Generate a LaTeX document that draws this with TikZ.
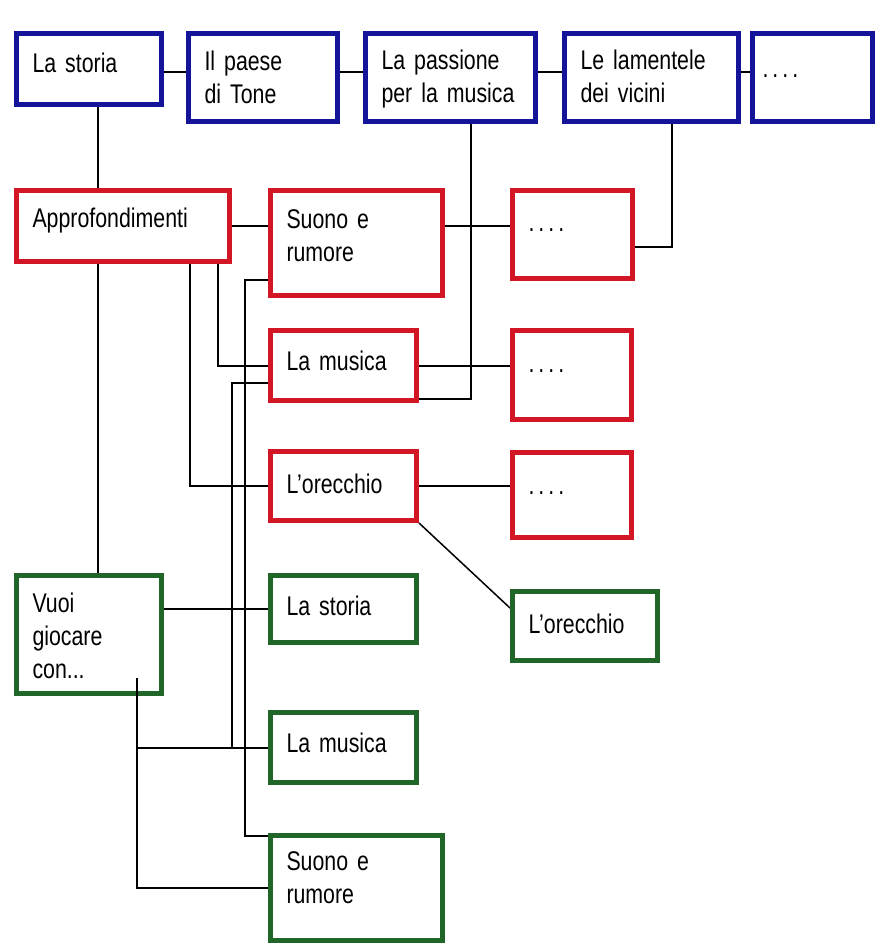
\documentclass[tikz,border=0pt]{standalone}
\usepackage{fontspec}
\setmainfont{Liberation Sans}[FakeStretch=0.79]
\usetikzlibrary{backgrounds}
\definecolor{bluebox}{RGB}{20,20,155}
\definecolor{redbox}{RGB}{210,22,38}
\definecolor{greenbox}{RGB}{32,102,40}
\tikzset{
  boxbase/.style={draw, fill=white, line width=5pt, rectangle, inner ysep=0pt, inner xsep=16pt,
    align=left, font=\fontsize{27}{33}\selectfont},
  bluestyle/.style={boxbase, draw=bluebox},
  redstyle/.style={boxbase, draw=redbox},
  greenstyle/.style={boxbase, draw=greenbox},
  conn/.style={draw=black, line width=2pt},
  thinconn/.style={draw=black, line width=1.5pt}
}
\newcommand\mkbox[8]{\node[#2,anchor=north west,minimum width={#5-5},minimum height={#6-5},
  text width={#5-5-32},text height={#7-2.5},text depth={#6-2.5-#7}] (#1) at (#3,#4) {#8};}
\newcommand\dotsfour{.\kern4pt.\kern4pt.\kern4pt.}
\begin{document}
\begin{tikzpicture}[x=1pt,y=-1pt]
\useasboundingbox (0,0) rectangle (879,944);
% top row
\mkbox{A1}{bluestyle}{14}{31}{150}{76}{42}{La storia}
\mkbox{A2}{bluestyle}{186}{31}{154}{93}{40}{Il paese\\di Tone}
\mkbox{A3}{bluestyle}{363}{31}{175}{93}{39}{La passione\\per la musica}
\mkbox{A4}{bluestyle}{562}{31}{179}{93}{39}{Le lamentele\\dei vicini}
\mkbox{A5}{bluestyle}{750}{31}{125}{93}{47}{\hspace*{-6pt}\dotsfour}
% red
\mkbox{R1}{redstyle}{14}{188}{218}{76}{39}{Approfondimenti}
\mkbox{R2}{redstyle}{268}{188}{177}{110}{40}{Suono e\\rumore}
\mkbox{R3}{redstyle}{510}{188}{125}{93}{43}{\dotsfour}
\mkbox{R4}{redstyle}{268}{328}{151}{75}{42}{La musica}
\mkbox{R5}{redstyle}{510}{328}{124}{94}{44}{\dotsfour}
\mkbox{R6}{redstyle}{268}{449}{151}{74}{44}{L'orecchio}
\mkbox{R7}{redstyle}{510}{450}{124}{90}{44}{\dotsfour}
% green
\mkbox{G1}{greenstyle}{14}{573}{150}{123}{39}{Vuoi\\giocare\\con...}
\mkbox{G2}{greenstyle}{268}{573}{151}{72}{42}{La storia}
\mkbox{G3}{greenstyle}{510}{589}{150}{74}{44}{L'orecchio}
\mkbox{G4}{greenstyle}{268}{710}{151}{75}{42}{La musica}
\mkbox{G5}{greenstyle}{268}{833}{177}{110}{37}{Suono e\\rumore}
\begin{scope}[on background layer]
\fill[white] (0,0) rectangle (879,944);
\draw[conn] ([yshift=-3pt]A1.east) -- ([yshift=5.5pt]A2.west);
\draw[conn] ([yshift=5.5pt]A2.east) -- ([yshift=5.5pt]A3.west);
\draw[conn] ([yshift=5.5pt]A3.east) -- ([yshift=5.5pt]A4.west);
\draw[conn] ([yshift=5.5pt]A4.east) -- ([yshift=5.5pt]A5.west);
\draw[conn] ([xshift=9pt]A1.south) -- ([xshift=9pt]G1.north);
\draw[conn] (R1.east) -- (R1.east -| R2.west);
\draw[conn] ([xshift=67pt]R1.south) |- (R6.west);
\draw[conn] ([xshift=95pt]R1.south) |- (R4.west);
\draw[conn] ([yshift=-37pt]R2.west) -- ++(-23,0) |- ([yshift=52pt]G5.west);
\draw[conn] ([yshift=-17.5pt]R4.west) -| ([xshift=-36pt]G4.west);
\draw[conn] (G1.east |- G2.west) -- (G2.west);
\draw[conn] ([xshift=20.5pt]A3.south) |- ([yshift=-33.5pt]R4.east);
\draw[conn] ([yshift=17pt]R2.east) -- ([yshift=8.5pt]R3.west);
\draw[conn] ([xshift=20.5pt]A4.south) |- ([yshift=-12.5pt]R3.east);
\draw[conn] (R4.east) -- (R4.east -| R5.west);
\draw[conn] (R6.east) -- (R6.east -| R7.west);
\draw[thinconn] (R6.south east) -- ([yshift=18pt]G3.west);
\end{scope}
\draw[conn] ([xshift=48pt,yshift=18pt]G1.south) |- (G5.west);
\draw[conn] ([xshift=48pt]G1.south) |- (G4.west);
\end{tikzpicture}
\end{document}
